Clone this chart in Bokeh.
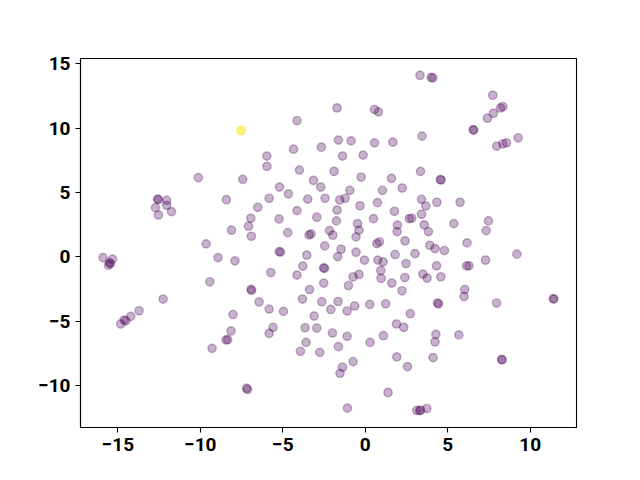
from bokeh.plotting import figure
from bokeh.models import Range1d, FixedTicker
from bokeh.embed import file_html
from bokeh.resources import INLINE

# ---- data ----
purple_x = [
    -10.12, -7.43, -1.71, 0.56, 0.80, -4.14, -1.63, -0.86, 0.56, 1.67,
    -4.35, -2.66, -5.97, -1.38, -0.13, -5.96, -3.99, -1.89, -3.14, -0.25,
    1.59, -5.20, -2.70, 2.24, 3.32, 4.00, 4.10, 7.73, 8.34, 8.20,
    7.77, 7.41, 6.54, 6.58, 3.44, 7.97, 8.34, 8.56, 9.27, 3.35,
    4.55, 4.60, -12.60, -12.54, -12.04, -12.72, -12.04, -11.75, -12.54, -8.42,
    -6.94, -7.08, -6.91, -8.11, -9.65, -8.93, -7.90, -15.90, -15.33, -15.50,
    -15.45, -15.57, -9.43, -12.26, -6.93, -6.89, -4.66, -0.94, 1.04, -5.83,
    -3.49, -2.44, -1.55, -1.22, 0.74, -0.32, -6.52, -1.71, -4.14, 1.77,
    -5.23, -2.94, -1.75, 0.50, 2.66, -0.47, 1.95, -0.38, 1.93, -4.70,
    -3.41, -3.29, -2.17, -1.97, -0.56, 2.41, 0.70, 0.86, -2.46, -1.47,
    -5.22, -5.14, -0.56, -3.55, -1.67, 1.81, -0.05, 0.76, 1.08, 2.47,
    -3.79, -2.53, -2.47, 0.94, -5.73, -4.14, -0.74, -0.38, 0.96, 2.40,
    -2.52, -1.02, 1.61, -3.38, 2.23, -6.44, -3.81, -2.64, -1.65, -0.64,
    0.27, 1.24, -1.10, -2.09, -5.83, -4.96, -3.10, 2.73, -5.59, -5.83,
    -3.65, -2.94, -1.99, -1.10, 1.89, 2.33, 0.29, 1.10, -3.59, -3.93,
    -2.76, -1.63, 1.91, 2.56, -0.74, -1.38, -1.53, -7.20, -7.14, 1.38,
    -1.08, 3.41, 3.67, 4.34, 5.75, 2.82, 3.41, 3.57, 3.83, 5.37,
    7.47, 7.33, 3.91, 4.23, 4.80, 6.17, 3.02, 4.32, 6.14, 6.29,
    7.29, 9.19, 3.49, 3.75, 4.58, 6.03, 5.99, 4.38, 4.44, 7.96,
    11.40, 11.44, 4.28, 4.23, 5.67, 4.11, 8.26, 8.30, 3.12, 3.30,
    3.36, 3.73, -13.72, -14.22, -14.62, -14.52, -14.83, -8.02, -8.14, -8.44,
    -8.34, -9.29,
]
purple_y = [
    6.16, 6.03, 11.58, 11.46, 11.27, 10.60, 9.08, 9.02, 8.87, 8.92,
    8.38, 8.53, 7.84, 7.84, 7.91, 7.04, 6.75, 6.65, 5.95, 6.21,
    6.11, 5.43, 5.43, 5.36, 14.12, 13.95, 13.92, 12.57, 11.69, 11.58,
    11.17, 10.78, 9.90, 9.86, 9.39, 8.61, 8.79, 8.87, 9.26, 6.65,
    6.02, 5.98, 4.50, 4.46, 4.40, 3.83, 4.02, 3.52, 3.26, 4.45,
    3.01, 2.39, 1.61, 2.08, 1.02, -0.05, -0.30, -0.05, -0.17, -0.45,
    -0.52, -0.64, -1.93, -3.27, -2.52, -2.60, 4.91, 5.18, 5.18, 4.56,
    4.50, 4.56, 4.43, 4.56, 4.22, 3.98, 3.86, 3.65, 3.60, 3.55,
    2.95, 3.09, 2.80, 2.98, 2.98, 2.59, 2.47, 2.08, 1.97, 1.89,
    1.71, 1.79, 2.05, 1.69, 1.56, 1.25, 1.04, 1.17, 0.86, 0.60,
    0.42, 0.38, 0.37, 0.14, 0.03, 0.19, -0.25, -0.25, -0.38, -0.51,
    -0.71, -0.85, -0.89, -1.05, -1.21, -1.41, -1.54, -1.36, -1.67, -1.60,
    -2.03, -2.22, -2.03, -2.53, -2.63, -3.50, -3.27, -3.48, -3.46, -3.81,
    -3.69, -3.64, -4.20, -4.08, -4.05, -4.23, -4.59, -4.41, -5.47, -5.94,
    -5.50, -5.52, -5.91, -6.17, -5.21, -5.47, -6.64, -6.12, -6.64, -7.33,
    -7.41, -6.97, -7.77, -8.52, -8.13, -8.57, -9.04, -10.20, -10.30, -10.53,
    -11.75, 4.48, 3.96, 4.25, 4.25, 3.01, 3.32, 2.49, 1.97, 2.59,
    2.80, 2.05, 0.91, 0.65, 0.50, 1.09, 0.26, -0.69, -0.69, -0.69,
    -0.25, 0.22, -1.33, -1.64, -1.54, -2.53, -3.07, -3.58, -3.64, -3.58,
    -3.24, -3.28, -6.02, -6.60, -6.06, -7.82, -7.96, -8.00, -11.93, -11.95,
    -11.90, -11.78, -4.18, -4.62, -4.90, -4.96, -5.21, -4.47, -5.75, -6.45,
    -6.42, -7.10,
]
yellow_x = [-7.53]
yellow_y = [9.83]

x_ticks = [-15, -10, -5, 0, 5, 10]
y_ticks = [-10, -5, 0, 5, 10, 15]

PURPLE = "#440154"
YELLOW = "#fde725"

# matplotlib-like 5% autoscale margins
all_x = purple_x + yellow_x
all_y = purple_y + yellow_y
xr = max(all_x) - min(all_x)
yr = max(all_y) - min(all_y)

p = figure(
    width=624, height=464,
    output_backend="svg", toolbar_location=None,
    x_range=Range1d(min(all_x) - 0.05 * xr, max(all_x) + 0.05 * xr),
    y_range=Range1d(min(all_y) - 0.05 * yr, max(all_y) + 0.05 * yr),
    min_border_left=80, min_border_right=48,
    min_border_top=58, min_border_bottom=37,
)
p.grid.visible = False
p.outline_line_color = "black"
p.outline_line_width = 1.1
p.background_fill_color = "white"
p.border_fill_color = "white"

p.scatter(purple_x, purple_y, marker="circle", size=8.3,
          fill_color=PURPLE, line_color=PURPLE,
          fill_alpha=0.3, line_alpha=0.3, line_width=1.4)
p.scatter(yellow_x, yellow_y, marker="circle", size=8.3,
          fill_color=YELLOW, line_color=YELLOW,
          fill_alpha=0.6, line_alpha=0.6, line_width=1.4)

def minus(v):
    return ("\u2212" + str(abs(v))) if v < 0 else str(v)

p.xaxis.ticker = FixedTicker(ticks=x_ticks)
p.yaxis.ticker = FixedTicker(ticks=y_ticks)
p.xaxis.major_label_overrides = {t: minus(t) for t in x_ticks}
p.yaxis.major_label_overrides = {t: minus(t) for t in y_ticks}

for ax in (p.xaxis, p.yaxis):
    ax.major_label_text_font = "Roboto"
    ax.major_label_text_font_style = "bold"
    ax.major_label_text_font_size = "19px"
    ax.major_label_text_color = "black"
    ax.major_tick_in = 0
    ax.major_tick_out = 5
    ax.minor_tick_in = 0
    ax.minor_tick_out = 0
    ax.major_tick_line_width = 1.1
    ax.axis_line_width = 1.1
    ax.major_label_standoff = 5

open("out.html", "w").write(file_html(p, INLINE))
